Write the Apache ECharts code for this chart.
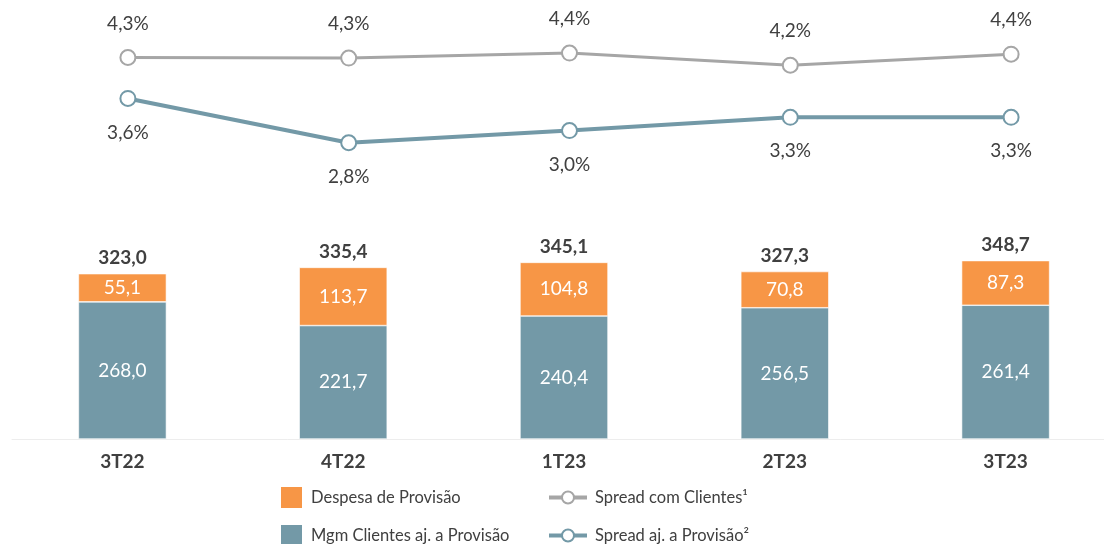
<!DOCTYPE html>
<html>
<head>
<meta charset="utf-8">
<script src="https://cdn.jsdelivr.net/npm/echarts@6/dist/echarts.min.js"></script>
<style>
html, body { margin: 0; padding: 0; background: #fff; overflow: hidden; }
/* o grid passa um pouco da borda direita, por isso o div é mais largo */
#chart { width: 1140px; height: 544px; }
</style>
</head>
<body>
<div id="chart"></div>
<script>
// dados
var categories = ['3T22', '4T22', '1T23', '2T23', '3T23'];
var despesaProvisao = [55.1, 113.7, 104.8, 70.8, 87.3];
var mgmClientes = [268.0, 221.7, 240.4, 256.5, 261.4];
var totais = [323.0, 335.4, 345.1, 327.3, 348.7];
var spreadClientes = [4.34, 4.33, 4.42, 4.20, 4.40];
var spreadAjProvisao = [3.60, 2.80, 3.02, 3.26, 3.26];

var corLaranja = '#F79646';
var corAzul = '#7399A7';
var corCinza = '#A6A6A6';
var corTexto = '#404040';
var fonte = 'Lato';

function br(v, casas) {
    return v.toFixed(casas).replace('.', ',');
}

var myChart = echarts.init(document.getElementById('chart'));

var legendaTexto = { fontSize: 16.5, color: corTexto, fontFamily: fonte, padding: [0, 0, 0, 3] };

var option = {
    animation: false,
    textStyle: { fontFamily: fonte, color: corTexto },
    grid: [
        { left: 12, width: 1104, top: 132, height: 307 },
        { left: 17.5, width: 1104, top: 21, height: 166 }
    ],
    xAxis: [
        {
            type: 'category',
            gridIndex: 0,
            data: categories,
            axisLine: { lineStyle: { color: '#EDEDED', width: 1 } },
            axisTick: { show: false },
            axisLabel: {
                margin: 13,
                fontSize: 19,
                fontWeight: 'bold',
                color: corTexto,
                fontFamily: fonte
            }
        },
        {
            type: 'category',
            gridIndex: 1,
            data: categories,
            show: false
        }
    ],
    yAxis: [
        { type: 'value', gridIndex: 0, min: 0, max: 600, show: false },
        { type: 'value', gridIndex: 1, min: 2, max: 5, show: false }
    ],
    legend: [
        {
            left: 279, top: 485, padding: 0,
            itemWidth: 23, itemHeight: 23, icon: 'rect',
            textStyle: legendaTexto,
            data: ['Despesa de Provisão']
        },
        {
            left: 279, top: 523, padding: 0,
            itemWidth: 23, itemHeight: 23, icon: 'rect',
            textStyle: legendaTexto,
            data: ['Mgm Clientes aj. a Provisão']
        },
        {
            left: 547, top: 489, padding: 0,
            itemWidth: 38, itemHeight: 15,
            lineStyle: { width: 4 },
            textStyle: legendaTexto,
            data: ['Spread com Clientes¹']
        },
        {
            left: 547, top: 527, padding: 0,
            itemWidth: 38, itemHeight: 15,
            lineStyle: { width: 4 },
            textStyle: legendaTexto,
            data: ['Spread aj. a Provisão²']
        }
    ],
    series: [
        {
            name: 'Mgm Clientes aj. a Provisão',
            type: 'bar',
            stack: 'total',
            xAxisIndex: 0,
            yAxisIndex: 0,
            barWidth: 88,
            data: mgmClientes,
            itemStyle: { color: corAzul, borderColor: '#ffffff', borderWidth: 0.6 },
            label: {
                show: true,
                position: 'inside',
                color: '#ffffff',
                fontSize: 19,
                fontFamily: fonte,
                formatter: function (p) { return br(p.value, 1); }
            }
        },
        {
            name: 'Despesa de Provisão',
            type: 'bar',
            stack: 'total',
            xAxisIndex: 0,
            yAxisIndex: 0,
            barWidth: 88,
            data: despesaProvisao,
            itemStyle: { color: corLaranja, borderColor: '#ffffff', borderWidth: 0.6 },
            label: {
                show: true,
                position: 'inside',
                color: '#ffffff',
                fontSize: 19,
                fontFamily: fonte,
                formatter: function (p) { return br(p.value, 1); }
            }
        },
        {
            name: 'Total',
            type: 'line',
            xAxisIndex: 0,
            yAxisIndex: 0,
            data: totais,
            symbol: 'circle',
            symbolSize: 1,
            itemStyle: { color: 'rgba(0,0,0,0)' },
            lineStyle: { opacity: 0 },
            silent: true,
            label: {
                show: true,
                position: 'top',
                distance: 6,
                color: corTexto,
                fontSize: 19,
                fontWeight: 'bold',
                fontFamily: fonte,
                formatter: function (p) { return br(p.value, 1); }
            }
        },
        {
            name: 'Spread com Clientes¹',
            type: 'line',
            xAxisIndex: 1,
            yAxisIndex: 1,
            data: spreadClientes,
            symbol: 'circle',
            symbolSize: 15,
            lineStyle: { color: corCinza, width: 3 },
            itemStyle: { color: '#ffffff', borderColor: corCinza, borderWidth: 2 },
            label: {
                show: true,
                position: 'top',
                distance: 16,
                color: corTexto,
                fontSize: 19,
                fontFamily: fonte,
                formatter: function (p) { return br(p.value, 1) + '%'; }
            }
        },
        {
            name: 'Spread aj. a Provisão²',
            type: 'line',
            xAxisIndex: 1,
            yAxisIndex: 1,
            data: spreadAjProvisao,
            symbol: 'circle',
            symbolSize: 15,
            lineStyle: { color: corAzul, width: 4 },
            itemStyle: { color: '#ffffff', borderColor: corAzul, borderWidth: 2 },
            label: {
                show: true,
                position: 'bottom',
                distance: 16,
                color: corTexto,
                fontSize: 19,
                fontFamily: fonte,
                formatter: function (p) { return br(p.value, 1) + '%'; }
            }
        }
    ]
};

myChart.setOption(option);
</script>
</body>
</html>
